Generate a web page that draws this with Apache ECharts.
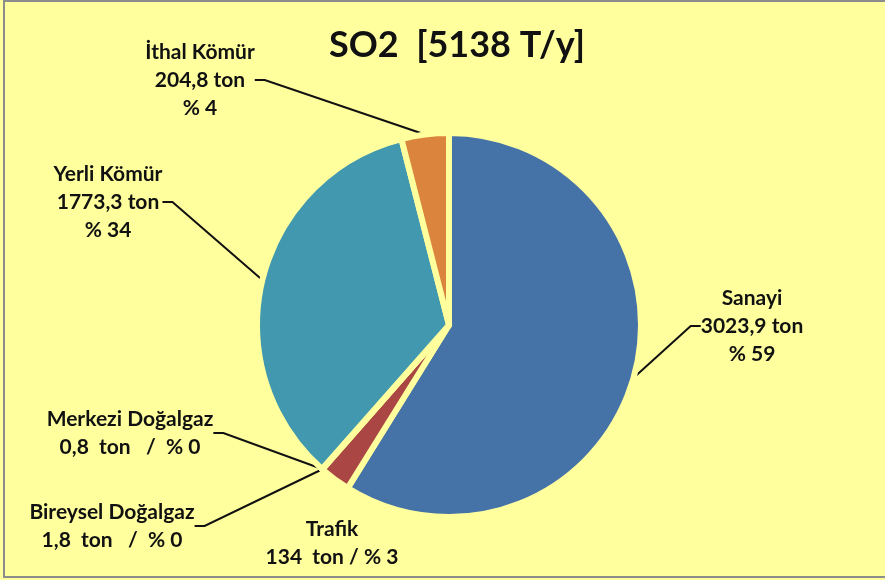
<!DOCTYPE html>
<html>
<head>
    <meta charset="UTF-8">
    <title>SO2</title>
    <script src="https://cdn.jsdelivr.net/npm/echarts@6/dist/echarts.min.js"></script>
    <style>
        body { margin: 0; background: #fff; }
        #main { width: 885px; height: 580px; }
    </style>
</head>
<body>
    <div id="main"></div>
    <script>
        // kaynak adları, miktarlar (ton) ve yüzdeler
        var names = ['Sanayi', 'Trafik', 'Bireysel Doğalgaz', 'Merkezi Doğalgaz', 'Yerli Kömür', 'İthal Kömür'];
        var values = [3023.9, 134, 1.8, 0.8, 1773.3, 204.8];
        var percents = [59, 3, 0, 0, 34, 4];
        var colors = ['#4572a7', '#aa4643', '#89a54e', '#71588f', '#4198af', '#db843d'];
        var titleText = 'SO2  [5138 T/y]';

        // etiket konumlari (merkez x, y)
        var labelPos = [
            [752, 326],
            [332, 543],
            [112, 526],
            [130, 433],
            [108, 202],
            [200, 80]
        ];

        function fmt(v) {
            return String(v).replace('.', ',');
        }

        function labelText(i) {
            var n = names[i], v = fmt(values[i]), p = percents[i];
            if (i === 1) return n + '\n' + v + '  ton / % ' + p;
            if (i === 2 || i === 3) return n + '\n' + v + '  ton   /  % ' + p;
            return n + '\n' + v + ' ton\n% ' + p;
        }

        var chart = echarts.init(document.getElementById('main'));

        var data = names.map(function (n, i) {
            return {
                name: n,
                value: values[i],
                itemStyle: { color: colors[i] },
                labelLine: { show: i !== 1 }
            };
        });

        var option = {
            backgroundColor: '#ffff9e',
            title: {
                text: titleText,
                left: 452,
                top: 22,
                textAlign: 'center',
                textStyle: {
                    fontFamily: 'Lato',
                    fontSize: 36,
                    fontWeight: 'bold',
                    color: '#111'
                }
            },
            graphic: [{
                type: 'rect',
                shape: { x: 4, y: 1, width: 900, height: 576 },
                style: { fill: 'none', stroke: '#8c8c8c', lineWidth: 2 },
                silent: true
            }],
            series: [{
                type: 'pie',
                center: [449, 325],
                radius: 192,
                startAngle: 90,
                clockwise: true,
                silent: true,
                animation: false,
                itemStyle: {
                    borderColor: '#ffff9e',
                    borderWidth: 6
                },
                label: {
                    show: true,
                    formatter: function (p) { return labelText(p.dataIndex); },
                    fontFamily: 'Lato',
                    fontSize: 21,
                    fontWeight: 'bold',
                    lineHeight: 28,
                    color: '#111',
                    align: 'center'
                },
                labelLine: {
                    show: true,
                    length: 12,
                    length2: 10,
                    lineStyle: { color: '#111', width: 2 }
                },
                labelLayout: function (params) {
                    var p = labelPos[params.dataIndex];
                    return {
                        x: p[0],
                        y: p[1],
                        align: 'center',
                        verticalAlign: 'middle'
                    };
                },
                data: data
            }]
        };

        chart.setOption(option);
    </script>
</body>
</html>
